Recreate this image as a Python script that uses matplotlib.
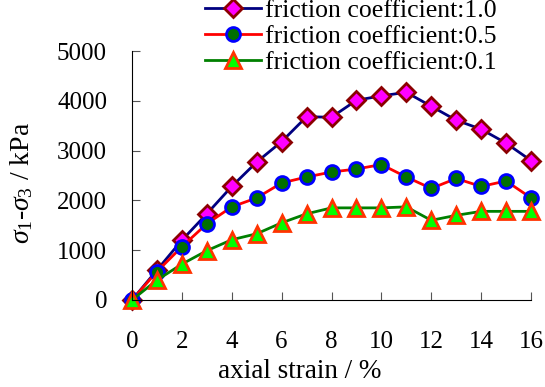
import matplotlib.pyplot as plt

plt.rcParams['font.family'] = ['Liberation Serif', 'DejaVu Serif']
plt.rcParams['mathtext.fontset'] = 'custom'
plt.rcParams['mathtext.rm'] = 'Liberation Serif'
plt.rcParams['mathtext.it'] = 'Liberation Serif:italic'

strain = [0, 1, 2, 3, 4, 5, 6, 7, 8, 9, 10, 11, 12, 13, 14, 15, 16]
mu_10 = [0, 600, 1200, 1730, 2280, 2770, 3180, 3680, 3670, 4010, 4100, 4170, 3890, 3610, 3430, 3150, 2800]
mu_05 = [0, 570, 1070, 1530, 1870, 2050, 2350, 2470, 2570, 2630, 2720, 2470, 2240, 2440, 2280, 2390, 2050]
mu_01 = [0, 400, 720, 990, 1210, 1330, 1550, 1730, 1850, 1850, 1850, 1870, 1600, 1700, 1780, 1780, 1780]

fig = plt.figure(figsize=(5.45, 3.87), dpi=100)
ax = fig.add_axes([132 / 545, 1 - 300 / 387, 399 / 545, 249 / 387])

ax.plot(strain, mu_10, color='navy', lw=2, marker='D', ms=9, mfc='magenta',
        mec='darkred', mew=2, label='friction coefficient:1.0')
ax.plot(strain, mu_05, color='red', lw=2, marker='o', ms=10, mfc='#007000',
        mec='blue', mew=2, label='friction coefficient:0.5')
ax.plot(strain, mu_01, color='green', lw=2, marker='^', ms=11, mfc='lime',
        mec='#ff3300', mew=2, label='friction coefficient:0.1')

ax.set_xlim(0, 16)
ax.set_ylim(0, 5000)
ax.set_xticks(range(0, 17, 2))
ax.set_yticks(range(0, 5001, 1000))
ax.spines['top'].set_visible(False)
ax.spines['right'].set_visible(False)
ax.tick_params(axis='x', direction='in', length=6, labelsize=18, pad=22, color='#555555')
ax.tick_params(axis='y', direction='in', length=6, labelsize=18, pad=18, color='#555555')

ax.set_xlabel('axial strain / %', fontsize=19.5, va='top')
ax.xaxis.set_label_coords((300 - 132) / 399, -0.235)
ax.set_ylabel(r'$\sigma_{\mathit{1}}$-$\sigma_{\mathit{3}}$ / kPa', fontsize=20, va='center')
ax.yaxis.set_label_coords((22 - 132) / 399, 0.47)

leg = ax.legend(loc='upper left', bbox_to_anchor=(0.371, 1.01),
                bbox_transform=fig.transFigure, borderaxespad=0, fontsize=18.5,
                frameon=True, edgecolor='none', framealpha=1.0,
                handlelength=2.2, handletextpad=0.15, labelspacing=0.12,
                borderpad=0.1)
for line in ax.get_lines():
    line.set_clip_on(False)

fig.savefig('out.png', dpi=100)
